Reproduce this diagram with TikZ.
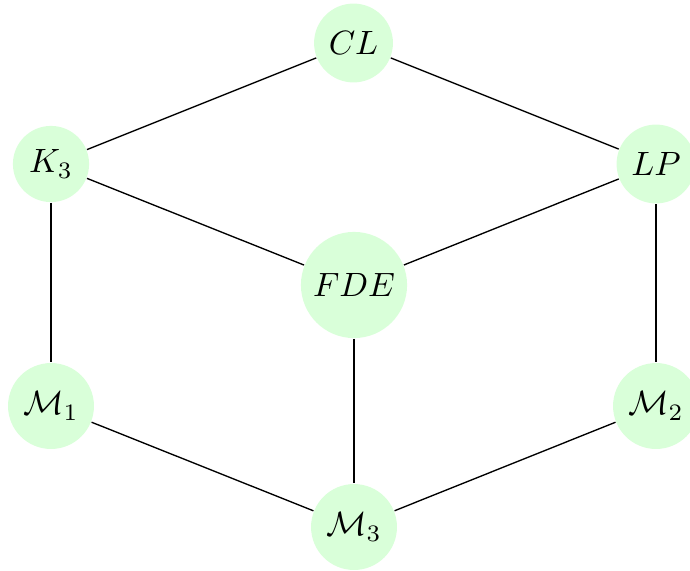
\documentclass[tikz,border=0pt]{standalone}
\begin{document}
\begin{tikzpicture}[x=0.2967pt, y=-0.2967pt,
  vnode/.style={circle, fill=green!15, draw=none, inner sep=0pt},
  edge/.style={draw=black, line width=0.4pt}]
\useasboundingbox (0,0) rectangle (690,570);
\node[vnode, minimum size=23.4pt] (CL) at (353.5,43) {$CL$};
\node[vnode, minimum size=22.6pt] (K3) at (51,164) {$K_3$};
\node[vnode, minimum size=23.4pt] (LP) at (656,164) {$LP$};
\node[vnode, minimum size=31.5pt] (FDE) at (354,285) {$FDE$};
\node[vnode, minimum size=25.5pt] (M1) at (51,406) {$\mathcal{M}_1$};
\node[vnode, minimum size=25.5pt] (M2) at (656,406) {$\mathcal{M}_2$};
\node[vnode, minimum size=25.5pt] (M3) at (354,527) {$\mathcal{M}_3$};
\draw[edge] (K3) -- (CL);
\draw[edge] (CL) -- (LP);
\draw[edge] (K3) -- (FDE);
\draw[edge] (LP) -- (FDE);
\draw[edge] (K3) -- (M1);
\draw[edge] (LP) -- (M2);
\draw[edge] (FDE) -- (M3);
\draw[edge] (M1) -- (M3);
\draw[edge] (M2) -- (M3);
\end{tikzpicture}
\end{document}
